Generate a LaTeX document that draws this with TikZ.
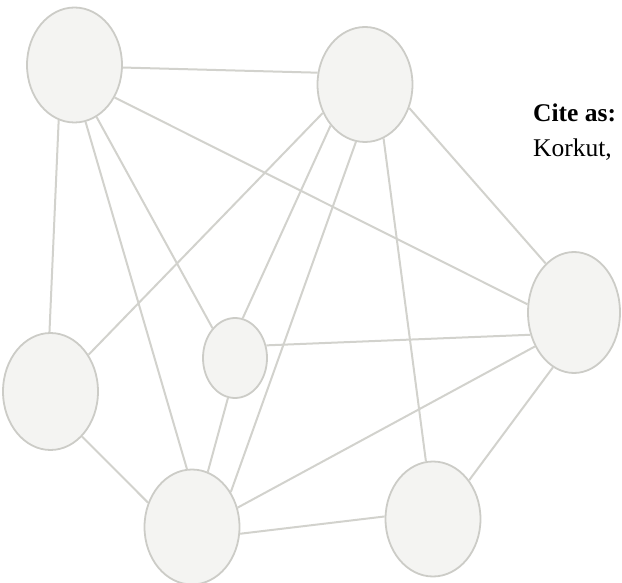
\documentclass[tikz,border=0pt]{standalone}
\usepackage{fontspec}
\setmainfont{Liberation Serif}
\usetikzlibrary{shapes}
\definecolor{nodefill}{RGB}{244,244,242}
\definecolor{nodeline}{RGB}{204,204,199}
\definecolor{edgeline}{RGB}{210,210,205}
\tikzset{
     vertex/.style = {ellipse, draw=nodeline, fill=nodefill, line width=1.8pt,
        inner sep=0pt, minimum width=95pt, minimum height=115pt},
     link/.style = {edgeline, line width=2pt},
     cite/.style = {font=\fontsize{25.5}{35}\selectfont, anchor=base west, inner sep=0pt},
    }

\begin{document}
\begin{tikzpicture}[x=1pt,y=-1pt]
        \useasboundingbox (0,0) rectangle (622,583);
        \node [vertex] (a) at (74.5,65)  {};
        \node [vertex] (b) at (365,84.5) {};
        \node [vertex, minimum width=92pt, minimum height=121pt] (c) at (574,312.5) {};
        \node [vertex, minimum height=117pt] (d) at (50.5,391.5) {};
        \node [vertex, minimum width=64pt, minimum height=80pt] (e) at (235,358) {};
        \node [vertex] (f) at (192,527) {};
        \node [vertex] (g) at (433,519) {};

        \path [link]
        (a.-3)   edge (b.166)
        (a.-39)  edge (c.170)
        (a.-106) edge (d.91)
        (a.-67)  edge (e.127)
        (a.-79)  edge (f.95)
        (b.-28)  edge (c.120)
        (b.-146) edge (d.44)
        (b.-130) edge (e.79)
        (b.-99)  edge (f.42)
        (b.-71)  edge (g.97)
        (c.-153) edge (e.22)
        (c.-139) edge (f.23)
        (c.-111) edge (g.47)
        (d.-55)  edge (f.151)
        (e.-100) edge (f.74)
        (f.-8)   edge (g.177);

        \node [cite] (citehead) at (533,122) {\textbf{Cite as:}};
        \node [cite] (citename) at (533,157) {Korkut,};
    \end{tikzpicture}
\end{document}
